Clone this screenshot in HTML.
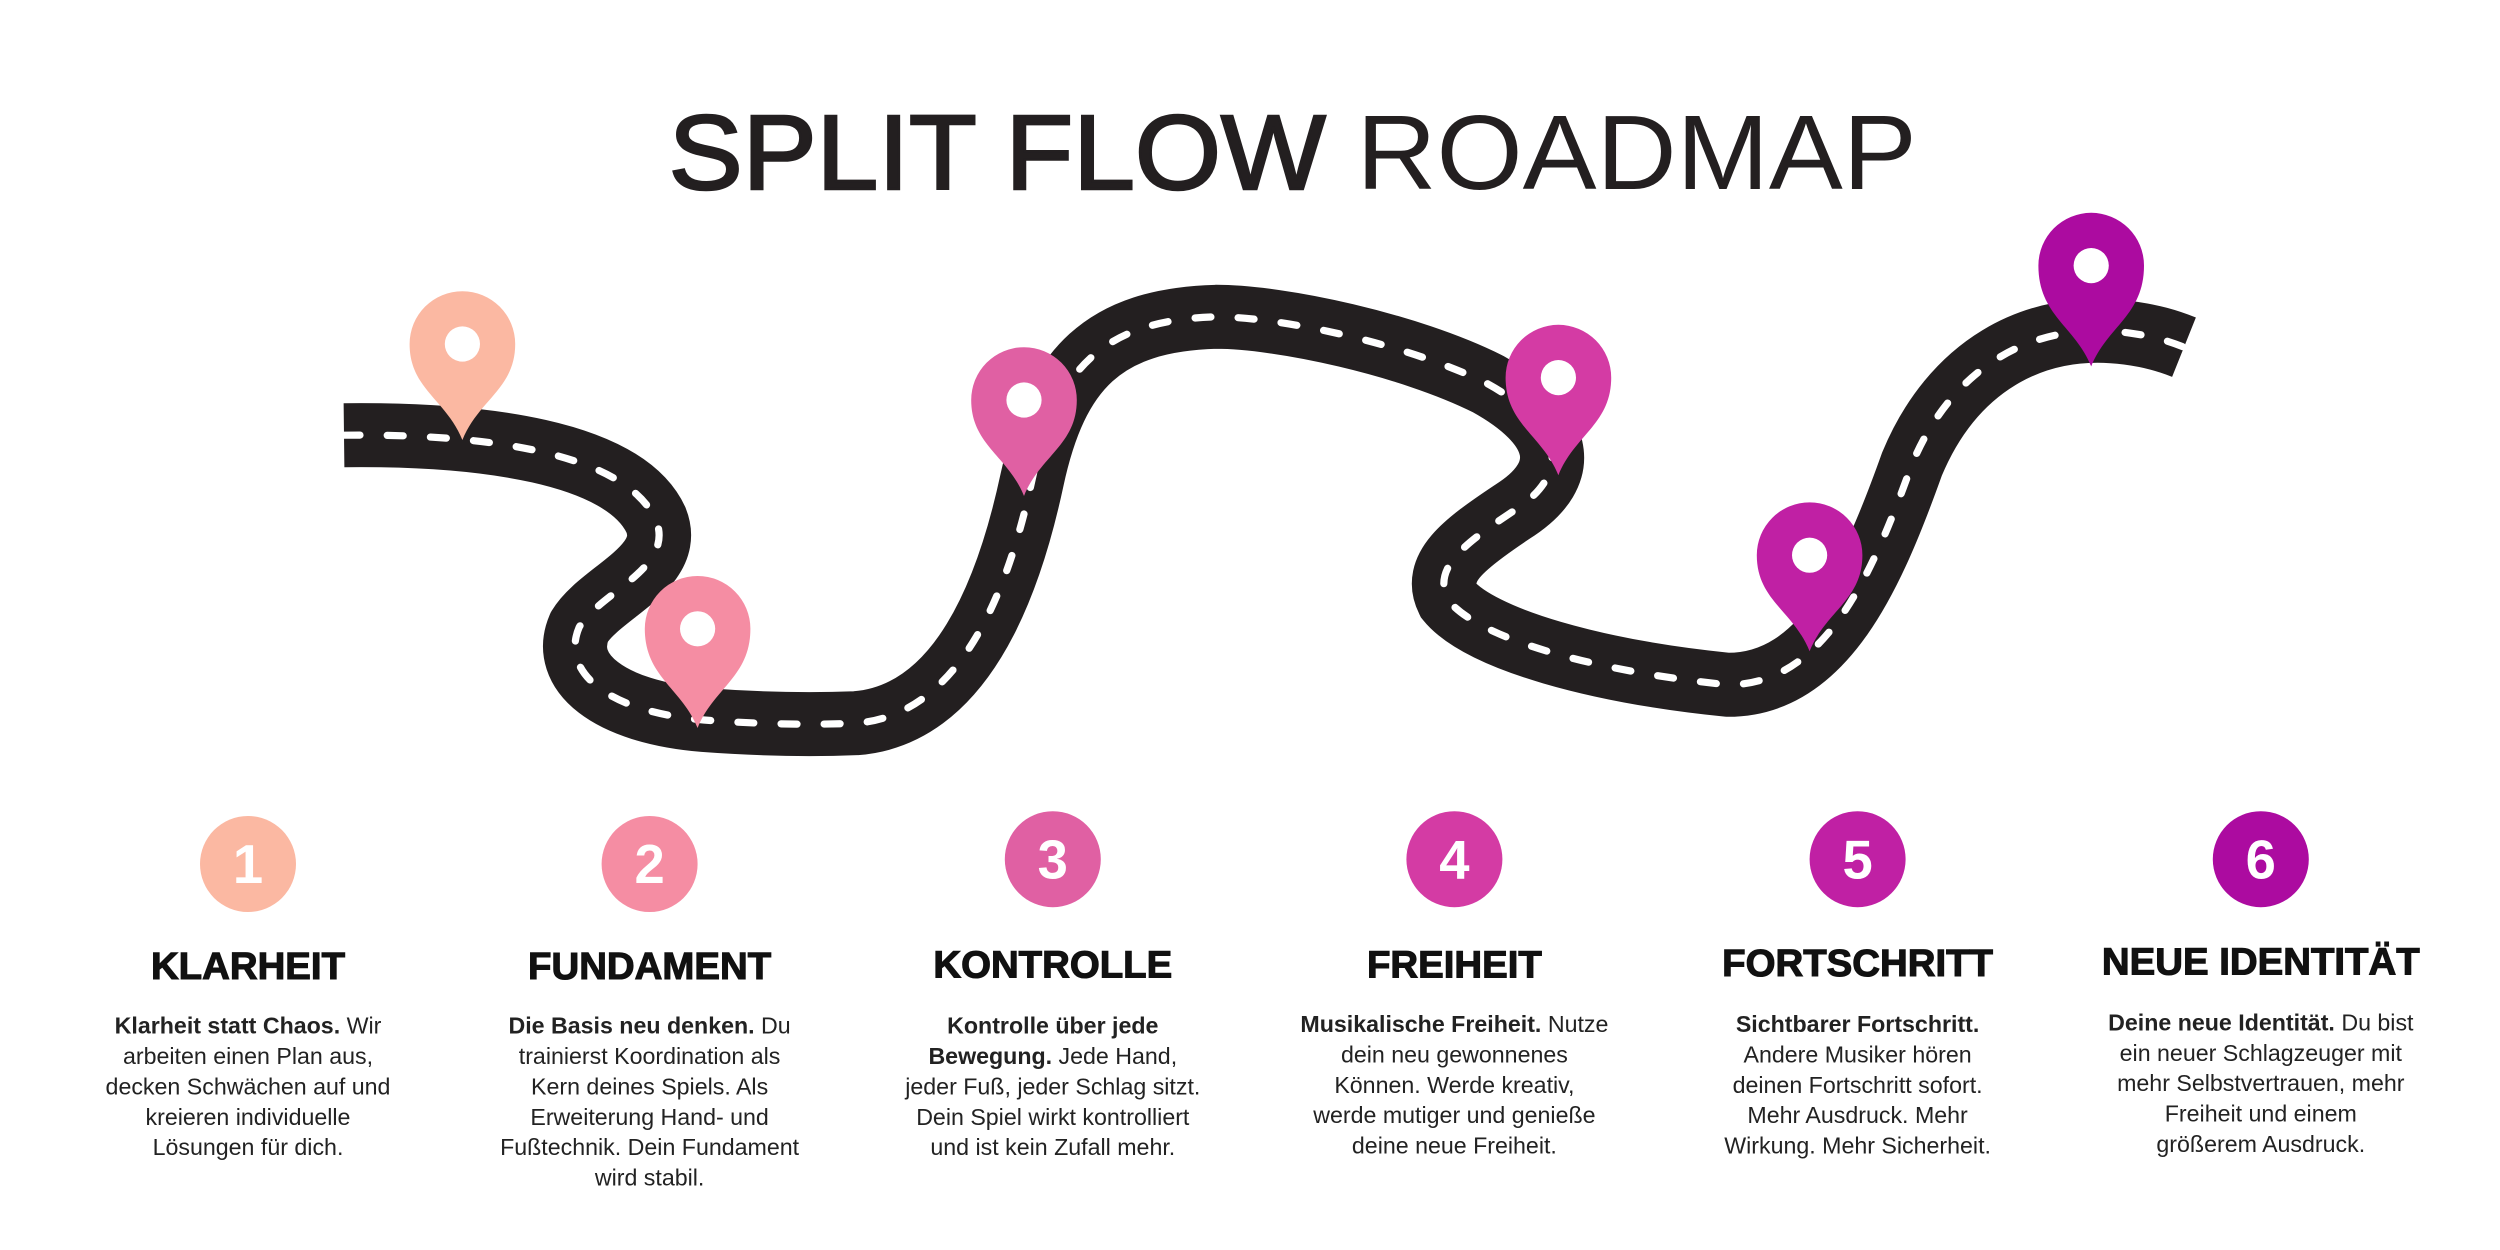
<!DOCTYPE html>
<html><head><meta charset="utf-8"><style>html,body{margin:0;padding:0;background:#fff}svg{display:block}</style></head>
<body>
<svg width="2500" height="1250" viewBox="0 0 1562.5 781.25" xmlns="http://www.w3.org/2000/svg">
<rect width="1562.5" height="781.25" fill="#fff"/>
<text x="808" y="118" text-anchor="middle" font-family="Liberation Sans, sans-serif" font-size="66" fill="#231f20" textLength="780" lengthAdjust="spacingAndGlyphs"><tspan stroke="#231f20" stroke-width="1.6">SPLIT FLOW</tspan> ROADMAP</text>
<g fill="none" stroke-linecap="butt">
<path d="M215,272 C300,271 390,282 410,325 C422,355 375,370 362,392 C350,420 380,445 440,450 C480,453 510,453 535,452 C600,447 630,370 645,300 C660,230 690,200 760,198 C800,198 880,215 930,240 C975,265 985,295 945,320 C915,340 895,355 905,375 C925,400 1000,420 1080,428 C1140,428 1170,360 1195,290 C1220,230 1270,200 1330,208 C1345,210 1355,213 1365,217" stroke="#231f20" stroke-width="40"/>
<path d="M215,272 C300,271 390,282 410,325 C422,355 375,370 362,392 C350,420 380,445 440,450 C480,453 510,453 535,452 C600,447 630,370 645,300 C660,230 690,200 760,198 C800,198 880,215 930,240 C975,265 985,295 945,320 C915,340 895,355 905,375 C925,400 1000,420 1080,428 C1140,428 1170,360 1195,290 C1220,230 1270,200 1330,208 C1345,210 1355,213 1365,217" stroke="#fff" stroke-width="4.5" stroke-dasharray="10 17" stroke-linecap="round"/>
</g>
<g>
<path d="M289,275 C279,250 256,243 256,215 A33,33 0 0 1 322,215 C322,243 299,250 289,275Z" fill="#fbb8a2"/><circle cx="289" cy="215" r="11" fill="#fff"/>
<path d="M436,455 C426,430 403,423 403,393 A33,33 0 0 1 469,393 C469,423 446,430 436,455Z" fill="#f58da3"/><circle cx="436" cy="393" r="11" fill="#fff"/>
<path d="M640,310 C630,285 607,278 607,250 A33,33 0 0 1 673,250 C673,278 650,285 640,310Z" fill="#e060a3"/><circle cx="640" cy="250" r="11" fill="#fff"/>
<path d="M974,297 C964,272 941,265 941,236 A33,33 0 0 1 1007,236 C1007,265 984,272 974,297Z" fill="#d43ba4"/><circle cx="974" cy="236" r="11" fill="#fff"/>
<path d="M1131,407 C1121,382 1098,375 1098,347 A33,33 0 0 1 1164,347 C1164,375 1141,382 1131,407Z" fill="#c020a4"/><circle cx="1131" cy="347" r="11" fill="#fff"/>
<path d="M1307,229 C1297,204 1274,197 1274,166 A33,33 0 0 1 1340,166 C1340,197 1317,204 1307,229Z" fill="#ac0ba0"/><circle cx="1307" cy="166" r="11" fill="#fff"/>
</g>
<g font-family="Liberation Sans, sans-serif" text-anchor="middle">
<g font-weight="bold" font-size="34" fill="#fff">
<circle cx="155" cy="540" r="30" fill="#fbb8a2"/><text x="155" y="552">1</text>
<circle cx="406" cy="540" r="30" fill="#f58da3"/><text x="406" y="552">2</text>
<circle cx="658" cy="537" r="30" fill="#e060a3"/><text x="658" y="549">3</text>
<circle cx="909" cy="537" r="30" fill="#d43ba4"/><text x="909" y="549">4</text>
<circle cx="1161" cy="537" r="30" fill="#c020a4"/><text x="1161" y="549">5</text>
<circle cx="1413" cy="537" r="30" fill="#ac0ba0"/><text x="1413" y="549">6</text>
</g>
<g font-weight="bold" font-size="24" fill="#111" stroke="#111" stroke-width="0.7">
<text x="155" y="612">KLARHEIT</text>
<text x="406" y="612">FUNDAMENT</text>
<text x="658" y="611">KONTROLLE</text>
<text x="909" y="611">FREIHEIT</text>
<text x="1161" y="610">FORTSCHRITT</text>
<text x="1413" y="609">NEUE IDENTITÄT</text>
</g>
<g font-size="14.5" fill="#222">
<text x="155" y="646"><tspan font-weight="bold">Klarheit statt Chaos.</tspan> Wir</text>
<text x="155" y="665">arbeiten einen Plan aus,</text>
<text x="155" y="684">decken Schwächen auf und</text>
<text x="155" y="703">kreieren individuelle</text>
<text x="155" y="722">Lösungen für dich.</text>

<text x="406" y="646"><tspan font-weight="bold">Die Basis neu denken.</tspan> Du</text>
<text x="406" y="665">trainierst Koordination als</text>
<text x="406" y="684">Kern deines Spiels. Als</text>
<text x="406" y="703">Erweiterung Hand- und</text>
<text x="406" y="722">Fußtechnik. Dein Fundament</text>
<text x="406" y="741">wird stabil.</text>

<text x="658" y="646" font-weight="bold">Kontrolle über jede</text>
<text x="658" y="665"><tspan font-weight="bold">Bewegung.</tspan> Jede Hand,</text>
<text x="658" y="684">jeder Fuß, jeder Schlag sitzt.</text>
<text x="658" y="703">Dein Spiel wirkt kontrolliert</text>
<text x="658" y="722">und ist kein Zufall mehr.</text>

<text x="909" y="645"><tspan font-weight="bold">Musikalische Freiheit.</tspan> Nutze</text>
<text x="909" y="664">dein neu gewonnenes</text>
<text x="909" y="683">Können. Werde kreativ,</text>
<text x="909" y="702">werde mutiger und genieße</text>
<text x="909" y="721">deine neue Freiheit.</text>

<text x="1161" y="645" font-weight="bold">Sichtbarer Fortschritt.</text>
<text x="1161" y="664">Andere Musiker hören</text>
<text x="1161" y="683">deinen Fortschritt sofort.</text>
<text x="1161" y="702">Mehr Ausdruck. Mehr</text>
<text x="1161" y="721">Wirkung. Mehr Sicherheit.</text>

<text x="1413" y="644"><tspan font-weight="bold">Deine neue Identität.</tspan> Du bist</text>
<text x="1413" y="663">ein neuer Schlagzeuger mit</text>
<text x="1413" y="682">mehr Selbstvertrauen, mehr</text>
<text x="1413" y="701">Freiheit und einem</text>
<text x="1413" y="720">größerem Ausdruck.</text>
</g>
</g>
</svg>
</body></html>
